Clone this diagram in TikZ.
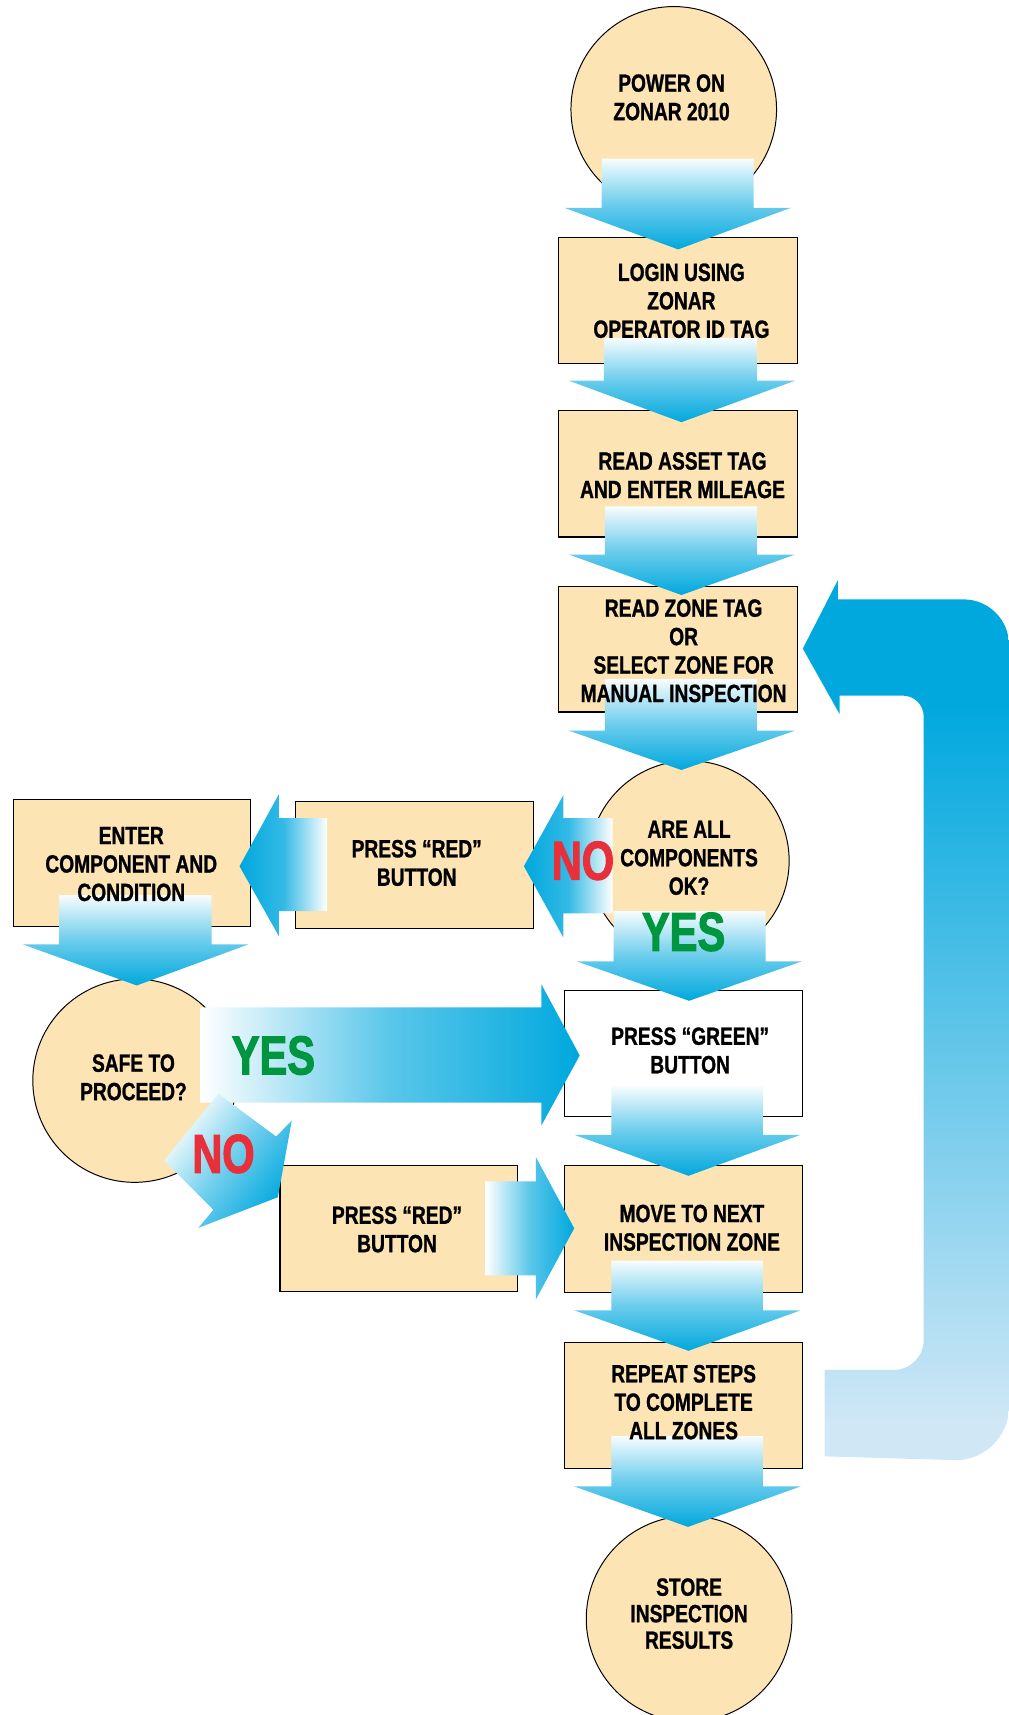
\documentclass[tikz,border=0pt]{standalone}
\usepackage{fontspec}
\newfontfamily\lblfont{Liberation Sans}[FakeStretch=0.77,FakeBold=1.0]
\newfontfamily\bigfont{Liberation Sans}[FakeStretch=0.76,FakeBold=2.0]
\definecolor{cream}{RGB}{253,228,180}
\definecolor{arrowblue}{RGB}{0,168,222}
\definecolor{looplight}{RGB}{208,231,246}
\definecolor{nored}{RGB}{232,48,58}
\definecolor{yesgreen}{RGB}{0,150,64}
\pgfdeclareverticalshading{loopshade}{100bp}{color(0bp)=(looplight); color(27bp)=(looplight); color(68bp)=(arrowblue); color(100bp)=(arrowblue)}
\tikzset{
  boxshape/.style={rectangle, draw=black, line width=1pt, fill=cream, inner sep=0pt, minimum width=218pt, minimum height=116pt},
  circshape/.style={circle, draw=black, line width=0.9pt, fill=cream, inner sep=0pt},
  lbl/.style={align=center, inner sep=0pt, text=black, font=\lblfont\bfseries\fontsize{22.8pt}{26pt}\selectfont},
  bigyes/.style={inner sep=0pt, text=yesgreen, font=\bigfont\bfseries\fontsize{50pt}{50pt}\selectfont},
  bigno/.style={inner sep=0pt, text=nored, font=\bigfont\bfseries\fontsize{50pt}{50pt}\selectfont},
  vshade/.style={top color=arrowblue!3!white, bottom color=arrowblue, middle color=arrowblue!58!white},
  lshade/.style={left color=arrowblue, right color=white, middle color=arrowblue!80!white},
  rshade/.style={left color=white, right color=arrowblue, middle color=arrowblue!65!white},
  dshade/.style={top color=white, bottom color=arrowblue, middle color=arrowblue!55!white, shading angle=53},
}
% down block arrow: shaft left, shaft right, shaft top, head left, head right, head base, tip x, tip y
\newcommand\dnarr[8]{\shade[vshade] (#1,#3) -- (#2,#3) -- (#2,#6) -- (#5,#6) -- (#7,#8) -- (#4,#6) -- (#1,#6) -- cycle;}
% left block arrow: tip x, tip y, head x, head top, head bottom, shaft end, shaft top, shaft bottom
\newcommand\lfarr[8]{\shade[lshade] (#1,#2) -- (#3,#4) -- (#3,#7) -- (#6,#7) -- (#6,#8) -- (#3,#8) -- (#3,#5) -- cycle;}
\newcommand\rtarr[8]{\shade[rshade] (#1,#2) -- (#3,#4) -- (#3,#7) -- (#6,#7) -- (#6,#8) -- (#3,#8) -- (#3,#5) -- cycle;}
\begin{document}
\begin{tikzpicture}[x=1pt, y=-1pt]
\useasboundingbox (0,0) rectangle (922,1568);
\clip (0,0) rectangle (922,1568);

% loop-back arrow
\shade[shading=loopshade] (734,593) -- (766,530.5) -- (766,548) -- (881,548)
  .. controls (903.9,548) and (922.5,566.6) .. (922.5,589.5)
  -- (922.5,1286) .. controls (922.5,1313.1) and (900.6,1335) .. (873.5,1335)
  -- (754,1331.5) -- (754,1252.5) -- (817,1252.5)
  .. controls (832.2,1252.5) and (844.5,1240.2) .. (844.5,1225)
  -- (844.5,655) .. controls (844.5,644.5) and (836,636) .. (825.5,636)
  -- (767.7,636) -- (767.7,653) -- cycle;

% shapes
\node[circshape, minimum size=188pt] (power) at (616,100) {};
\node[boxshape, minimum width=218pt, minimum height=115pt] (login) at (620,274.5) {};
\node[boxshape, minimum width=218.5pt] (asset) at (619.75,433) {};
\node[boxshape, minimum width=218.5pt, minimum height=115pt] (zone) at (619.75,593.5) {};
\node[circshape, minimum size=183pt] (areall) at (630,787) {};
\node[boxshape] (red1) at (379,791) {};
\node[boxshape, minimum width=217pt] (enter) at (120.5,789) {};
\node[circshape, minimum size=186pt] (safe) at (123,988) {};
\node[boxshape, fill=white, minimum height=115.5pt] (green) at (625,963.25) {};
\node[boxshape, minimum width=217pt, minimum height=115pt] (red2) at (364.5,1123.5) {};
\node[boxshape] (move) at (625,1124) {};
\node[boxshape] (repeat) at (625,1285) {};
\node[circshape, minimum size=188pt] (store) at (630,1480) {};

% block arrows
\dnarr{550}{689}{145}{516}{723}{190}{620}{228}
\dnarr{552}{692}{309}{520}{727}{348}{623}{386}
\dnarr{553}{692}{463}{520}{727}{507}{623}{544}
\dnarr{553}{692}{621}{520}{727}{668}{623}{704}
\dnarr{561}{700}{833}{527.5}{733}{879}{630}{915}
\dnarr{559}{697.5}{993}{525}{732}{1037.5}{629.5}{1075}
\dnarr{559}{697.5}{1152.5}{525}{732}{1198}{629.5}{1235}
\dnarr{559}{697.5}{1313}{525}{732}{1359}{629}{1396}
\dnarr{54}{193.5}{818.5}{21}{227}{863.5}{125}{901}
\lfarr{479}{792}{515}{727}{857}{560}{748}{835}
\lfarr{219}{792}{255}{726}{856}{299}{748}{833}
\rtarr{530}{965}{495}{900}{1029}{183}{921}{1008}
\rtarr{525}{1123}{490}{1058}{1188}{444}{1080}{1166}
\shade[dshade] (199.7,1000) -- (252.5,1039.1) -- (266.8,1024.4) -- (254,1094.6) -- (181.4,1122.6) -- (195.1,1106.1) -- (150,1061) -- cycle;

% labels
\node[lbl] (t-power) at (614,89) {POWER ON\\ZONAR 2010};
\node[lbl] (t-login) at (623,275) {LOGIN USING\\ZONAR\\OPERATOR ID TAG};
\node[lbl] (t-asset) at (624,434.5) {READ ASSET TAG\\AND ENTER MILEAGE};
\node[lbl] (t-zone) at (625,595) {READ ZONE TAG\\OR\\SELECT ZONE FOR\\MANUAL INSPECTION};
\node[lbl] (t-areall) at (630,784.3) {ARE ALL\\COMPONENTS\\OK?};
\node[lbl] (t-red1) at (381,789) {PRESS “RED”\\BUTTON};
\node[lbl] (t-enter) at (120,790) {ENTER\\COMPONENT AND\\CONDITION};
\node[lbl] (t-safe) at (122,985) {SAFE TO\\PROCEED?};
\node[lbl] (t-green) at (631,960.4) {PRESS “GREEN”\\BUTTON};
\node[lbl] (t-red2) at (363,1124) {PRESS “RED”\\BUTTON};
\node[lbl] (t-move) at (632.6,1122.5) {MOVE TO NEXT\\INSPECTION ZONE};
\node[lbl] (t-repeat) at (625,1282) {REPEAT STEPS\\TO COMPLETE\\ALL ZONES};
\node[lbl, font=\lblfont\bfseries\fontsize{22.8pt}{24.2pt}\selectfont] (t-store) at (630,1475.3) {STORE\\INSPECTION\\RESULTS};

\node[bigno] (no1) at (533,787) {NO};
\node[bigyes] (yes1) at (625,852) {YES};
\node[bigyes] (yes2) at (250,965) {YES};
\node[bigno] (no2) at (204.3,1055) {NO};
\end{tikzpicture}
\end{document}
